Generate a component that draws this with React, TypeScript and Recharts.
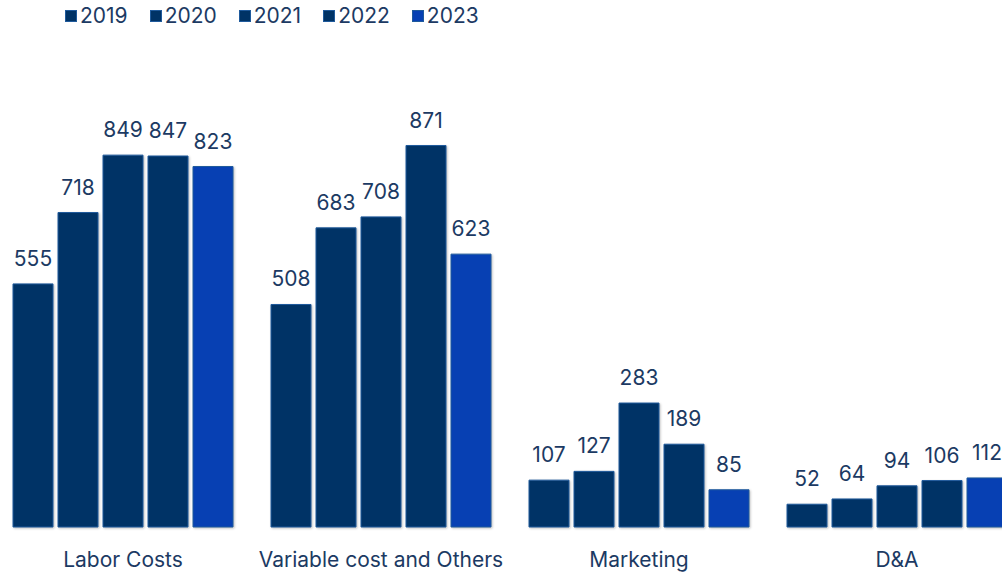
import { Bar, BarChart, LabelList, XAxis, YAxis } from 'recharts'

// 비용 항목별 연도 비교 — 5개 연도 막대 그룹, 막대 위 값 라벨.

const categories = ['Labor Costs', 'Variable cost and Others', 'Marketing', 'D&A']
const years = ['2019', '2020', '2021', '2022', '2023']
const v2019 = [555, 508, 107, 52]
const v2020 = [718, 683, 127, 64]
const v2021 = [849, 708, 283, 94]
const v2022 = [847, 871, 189, 106]
const v2023 = [823, 623, 85, 112]

const series = [v2019, v2020, v2021, v2022, v2023]
const data = categories.map((name, i) => {
  const row: Record<string, string | number> = { name }
  years.forEach((y, j) => (row[y] = series[j][i]))
  return row
})

const NAVY = '#003366'
const BLUE = '#0740b3'
const INK = '#1c3a63'
const FONT = 'Inter, "Noto Sans", sans-serif'

export default function App() {
  return (
    <div style={{ position: 'fixed', left: 0, top: 0, width: 1002, height: 572, overflow: 'hidden', background: '#fff' }}>
      <div style={{ position: 'absolute', left: 65, top: 3, display: 'flex', gap: 22, fontFamily: FONT, fontSize: 21, color: INK }}>
        {years.map((y, i) => (
          <span key={y} style={{ display: 'flex', alignItems: 'center', gap: 3 }}>
            <span
              style={{
                width: 12,
                height: 12,
                background: i === 4 ? BLUE : NAVY,
                border: '1px solid #1f5a9c',
                boxSizing: 'border-box',
              }}
            />
            {y}
          </span>
        ))}
      </div>
      <div style={{ position: 'absolute', left: -6, top: 0 }}>
        <BarChart
          width={1032}
          height={572}
          data={data}
          margin={{ top: 89, right: 0, left: 0, bottom: 0 }}
          barCategoryGap={19}
          barGap={5}
        >
          <XAxis
            dataKey="name"
            height={45}
            axisLine={false}
            tickLine={false}
            tickMargin={19}
            tick={{ fill: INK, fontSize: 21, fontFamily: FONT }}
            interval={0}
          />
          <YAxis hide domain={[0, 1000]} />
          {years.map((y, i) => (
            <Bar
              key={y}
              dataKey={y}
              fill={i === 4 ? BLUE : NAVY}
              stroke="#1f5a9c"
              strokeWidth={1}
              isAnimationActive={false}
              style={{ filter: 'drop-shadow(1px 1px 1px rgba(0,0,0,0.25))' }}
            >
              <LabelList dataKey={y} position="top" offset={18} fill={INK} fontSize={21} fontFamily={FONT} />
            </Bar>
          ))}
        </BarChart>
      </div>
    </div>
  )
}
